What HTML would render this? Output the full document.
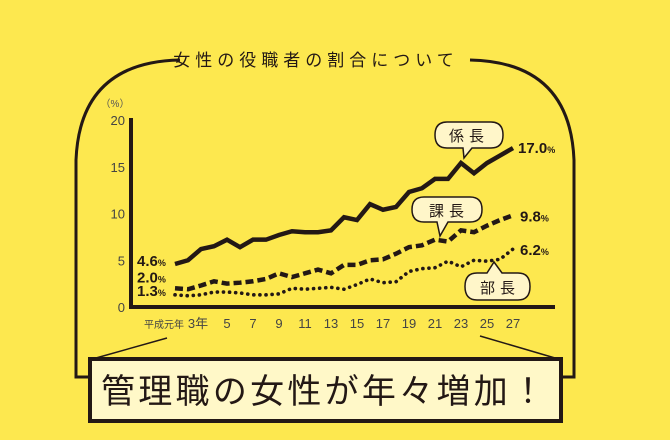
<!DOCTYPE html>
<html><head><meta charset="utf-8">
<style>
html,body{margin:0;padding:0;background:#fde84f;}
svg{display:block;font-family:"Liberation Sans","Noto Sans CJK JP",sans-serif;}
</style></head>
<body>
<svg width="670" height="440" viewBox="0 0 670 440">
<rect x="0" y="0" width="670" height="440" fill="#fde84f"/>
<path d="M90,377 L76,377 L76,160 Q80,62 180,60 M470,60 Q570,62 574,160 L574,377 L560,377" fill="none" stroke="#231815" stroke-width="3"/>
<text x="316" y="66" text-anchor="middle" font-size="17" fill="#231815" letter-spacing="5">女性の役職者の割合について</text>
<g id="axes"></g>
<g id="series"></g>
<g id="labels"></g>
<g>
<path d="M447,122 L491,122 Q503,122 503,135 Q503,148 491,148 L472,148 L464,158 L463,148 L447,148 Q435,148 435,135 Q435,122 447,122 Z" fill="#fff6c9" stroke="#231815" stroke-width="1.5"/>
<text x="469" y="141" text-anchor="middle" font-size="15" fill="#231815" letter-spacing="5">係長</text>
</g>
<g>
<path d="M424,197 L470,197 Q482,197 482,209.5 Q482,222 470,222 L448,222 L440,236 L437,222 L424,222 Q412,222 412,209.5 Q412,197 424,197 Z" fill="#fff6c9" stroke="#231815" stroke-width="1.5"/>
<text x="449" y="216" text-anchor="middle" font-size="15" fill="#231815" letter-spacing="5">課長</text>
</g>
<g>
<path d="M477,273 L487,273 L494,262 L502,273 L518,273 Q530,273 530,286.5 Q530,300 518,300 L477,300 Q465,300 465,286.5 Q465,273 477,273 Z" fill="#fff6c9" stroke="#231815" stroke-width="1.5"/>
<text x="500" y="293" text-anchor="middle" font-size="15" fill="#231815" letter-spacing="5">部長</text>
</g>
<line x1="96" y1="358" x2="167" y2="338" stroke="#231815" stroke-width="1.5"/>
<line x1="555" y1="358" x2="480" y2="336" stroke="#231815" stroke-width="1.5"/>
<rect x="90" y="359" width="471" height="62" fill="#fff8c8" stroke="#231815" stroke-width="4"/>
<text x="101" y="403" font-size="34" fill="#231815" textLength="444" lengthAdjust="spacing">管理職の女性が年々増加！</text>
<script>
const years=[1,2,3,4,5,6,7,8,9,10,11,12,13,14,15,16,17,18,19,20,21,22,23,24,25,26,27];
const kakaricho=[4.6,5.0,6.2,6.5,7.2,6.4,7.2,7.2,7.7,8.1,8.0,8.0,8.2,9.6,9.3,11.0,10.4,10.7,12.3,12.7,13.7,13.7,15.4,14.3,15.4,16.2,17.0];
const kacho=[2.0,1.9,2.3,2.75,2.5,2.6,2.75,3.0,3.6,3.2,3.6,4.0,3.6,4.5,4.5,5.0,5.1,5.7,6.4,6.6,7.2,7.0,8.2,8.0,8.7,9.3,9.8];
const bucho=[1.3,1.2,1.3,1.6,1.6,1.5,1.3,1.3,1.4,2.0,1.9,2.0,2.1,1.9,2.4,3.0,2.6,2.7,3.8,4.1,4.2,4.9,4.3,5.0,4.9,5.1,6.2];
const yTicks=[0,5,10,15,20];
const xTickYears=[1,3,5,7,9,11,13,15,17,19,21,23,25,27];
const xTickLabels=["平成元年","3年","5","7","9","11","13","15","17","19","21","23","25","27"];
const NS="http://www.w3.org/2000/svg";
function X(yr){return 175+(yr-1)*13;}
function Y(v){return 307-v*9.35;}
function mk(tag,attrs,parent){const e=document.createElementNS(NS,tag);for(const k in attrs)e.setAttribute(k,attrs[k]);parent.appendChild(e);return e;}
const axes=document.getElementById('axes');
const ya=mk('line',{x1:131,y1:118,x2:131,y2:309,stroke:'#231815','stroke-width':4},axes);


const xa=mk('line',{x1:129,y1:307,x2:555,y2:307,stroke:'#231815','stroke-width':4},axes);


const pu=mk('text',{x:115,y:107,'font-size':10,fill:'#555','text-anchor':'middle'},axes);pu.textContent='（%）';


yTicks.forEach(t=>{const e=mk('text',{x:125,y:Y(t)+5,'font-size':13,fill:'#444','text-anchor':'end'},axes);e.textContent=t;

});
xTickYears.forEach((yr,i)=>{let x=X(yr);let fs=13;if(i===0){x=X(yr)-11;fs=10;}if(i===1)x=X(yr)-3;
const e=mk('text',{x:x,y:328,'font-size':fs,fill:'#444','text-anchor':'middle'},axes);e.textContent=xTickLabels[i];

});
const ser=document.getElementById('series');
function pts(arr){return arr.map((v,i)=>X(years[i])+','+Y(v)).join(' ');}
const l1=mk('polyline',{points:pts(kakaricho),fill:'none',stroke:'#231815','stroke-width':4.5,'stroke-linejoin':'miter'},ser);


const l2=mk('polyline',{points:pts(kacho),fill:'none',stroke:'#231815','stroke-width':4.5,'stroke-dasharray':'8 4'},ser);


const l3=mk('polyline',{points:pts(bucho),fill:'none',stroke:'#231815','stroke-width':3.6,'stroke-dasharray':'0.1 6','stroke-linecap':'round'},ser);


const lab=document.getElementById('labels');
function vlabel(x,y,val,name){const t=mk('text',{x:x,y:y,'font-size':15,'font-weight':'bold',fill:'#231815'},lab);
t.appendChild(document.createTextNode(val));
const ts=mk('tspan',{'font-size':9},t);ts.textContent='%';

}
vlabel(137,Y(kakaricho[0])+2,kakaricho[0].toFixed(1),'label-kakaricho-start');
vlabel(137,Y(kacho[0])-6,kacho[0].toFixed(1),'label-kacho-start');
vlabel(137,Y(bucho[0])+1,bucho[0].toFixed(1),'label-bucho-start');
vlabel(518,Y(kakaricho[26])+5,kakaricho[26].toFixed(1),'label-kakaricho-end');
vlabel(520,Y(kacho[26])+6,kacho[26].toFixed(1),'label-kacho-end');
vlabel(520,Y(bucho[26])+6,bucho[26].toFixed(1),'label-bucho-end');
</script>
</svg>
</body></html>
